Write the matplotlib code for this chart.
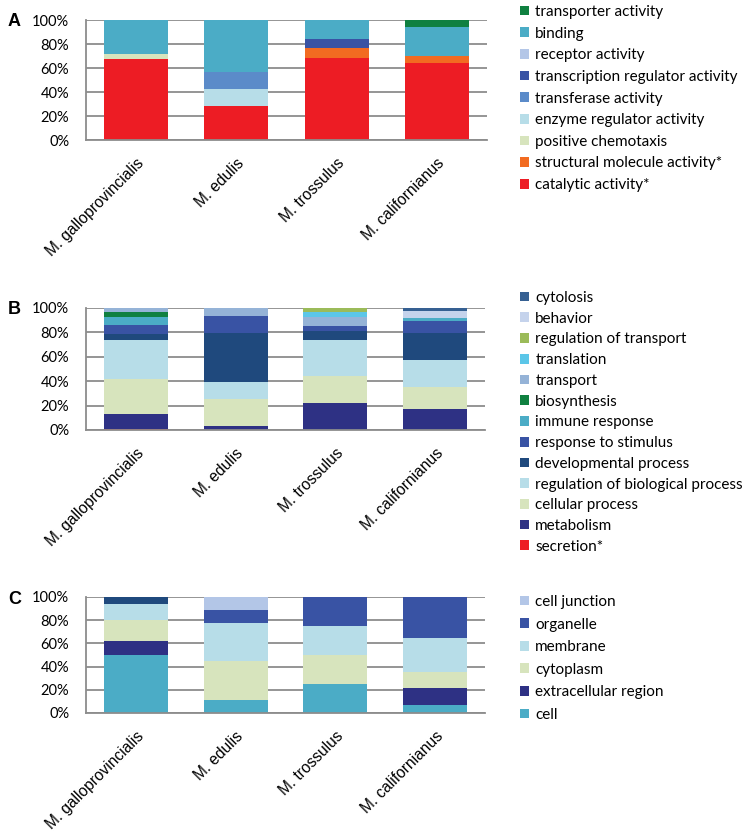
import matplotlib
matplotlib.use("Agg")
import matplotlib.pyplot as plt
from matplotlib.patches import Patch
import numpy as np

categories = ["M. galloprovincialis", "M. edulis", "M. trossulus", "M. californianus"]
yticks = [0, 20, 40, 60, 80, 100]
ytick_labels = ["0%", "20%", "40%", "60%", "80%", "100%"]

# Panel A (bottom to top)
a_labels = ["catalytic activity*", "structural molecule activity*", "positive chemotaxis",
            "enzyme regulator activity", "transferase activity",
            "transcription regulator activity", "receptor activity", "binding",
            "transporter activity"]
a_catalytic = [67.2, 28.4, 68.6, 64.2]
a_structural = [0, 0, 8.1, 5.8]
a_chemotaxis = [4.2, 0, 0, 0]
a_enzyme_reg = [0, 14.4, 0, 0]
a_transferase = [0, 14.2, 0, 0]
a_transcription = [0, 0, 7.5, 0]
a_receptor = [0, 0, 0, 0]
a_binding = [28.6, 43.0, 15.8, 24.2]
a_transporter = [0, 0, 0, 5.8]
a_colors = ["#ed1c24", "#f26b21", "#d7e4bd", "#b7dde8", "#5b8bc9",
            "#3953a4", "#b3c6e7", "#4bacc6", "#0f8040"]

# Panel B (bottom to top)
b_labels = ["secretion*", "metabolism", "cellular process", "regulation of biological process",
            "developmental process", "response to stimulus", "immune response",
            "biosynthesis", "transport", "translation", "regulation of transport",
            "behavior", "cytolosis"]
b_secretion = [1.0, 0, 0, 0]
b_metabolism = [11.8, 3.0, 22.3, 16.9]
b_cellular = [29.4, 22.1, 22.1, 18.0]
b_regulation_bio = [31.9, 13.9, 29.7, 22.3]
b_developmental = [4.9, 40.6, 6.8, 22.4]
b_response = [7.4, 13.9, 4.4, 9.8]
b_immune = [6.0, 0, 0, 2.5]
b_biosynthesis = [4.1, 0, 0, 0]
b_transport = [3.5, 6.5, 7.3, 0]
b_translation = [0, 0, 4.1, 0]
b_reg_transport = [0, 0, 3.3, 0]
b_behavior = [0, 0, 0, 6.0]
b_cytolosis = [0, 0, 0, 2.1]
b_colors = ["#ed1c24", "#2e3184", "#d7e4bd", "#b7dde8", "#1f497d", "#3953a4",
            "#4bacc6", "#0f8040", "#95b3d7", "#5bc6e8", "#9bbb59", "#c5d3ec", "#366092"]

# Panel C (bottom to top); last series has no legend entry in the original
c_labels = ["cell", "extracellular region", "cytoplasm", "membrane", "organelle",
            "cell junction", "_unlabeled"]
c_cell = [50.0, 11.1, 25.0, 7.1]
c_extracellular = [12.5, 0, 0, 14.3]
c_cytoplasm = [17.5, 33.3, 25.0, 14.3]
c_membrane = [13.7, 33.3, 25.0, 28.6]
c_organelle = [0, 11.1, 25.0, 35.7]
c_cell_junction = [0, 11.1, 0, 0]
c_unlabeled = [6.3, 0, 0, 0]
c_colors = ["#4bacc6", "#2e3184", "#d7e4bd", "#b7dde8", "#3953a4", "#b3c6e7", "#1f497d"]

panels = [
    ("A", a_labels, [a_catalytic, a_structural, a_chemotaxis, a_enzyme_reg, a_transferase,
                     a_transcription, a_receptor, a_binding, a_transporter], a_colors),
    ("B", b_labels, [b_secretion, b_metabolism, b_cellular, b_regulation_bio, b_developmental,
                     b_response, b_immune, b_biosynthesis, b_transport, b_translation,
                     b_reg_transport, b_behavior, b_cytolosis], b_colors),
    ("C", c_labels, [c_cell, c_extracellular, c_cytoplasm, c_membrane, c_organelle,
                     c_cell_junction, c_unlabeled], c_colors),
]

W, H = 743, 836
fig = plt.figure(figsize=(W / 100, H / 100), dpi=100)

# axes boxes in pixels: (left, top, right, bottom)
boxes = [(86, 20, 487, 140), (86, 308, 485, 430), (86, 597, 485, 713)]
legend_tops = [5, 291, 595]
legend_spacing = [0.50, 0.44, 0.56]
tickfont = "Lato"
gray = "#8c8c8c"

for (letter, labels, series, colors), (l, t, r, b), ltop, lsp in zip(panels, boxes, legend_tops, legend_spacing):
    ax = fig.add_axes([l / W, 1 - b / H, (r - l) / W, (b - t) / H])
    x = np.arange(len(categories))
    bottom = np.zeros(len(categories))
    handles = []
    for lab, vals, col in zip(labels, series, colors):
        vals = np.array(vals, dtype=float)
        ax.bar(x, vals, 0.64, bottom=bottom, color=col, edgecolor="none", zorder=2)
        bottom += vals
        if not lab.startswith("_"):
            handles.append(Patch(facecolor=col, edgecolor="none", label=lab))
    ax.set_xlim(-0.5, 3.5)
    ax.set_ylim(0, 100)
    ax.set_yticks(yticks)
    ax.set_yticklabels(ytick_labels, fontsize=10.5, family=tickfont)
    ax.set_xticks(x)
    ax.set_xticklabels(categories, rotation=45, ha="right", rotation_mode="anchor",
                       fontsize=11.2, family="Liberation Sans")
    ax.tick_params(axis="x", length=0, pad=11)
    ax.tick_params(axis="y", length=0, pad=12)
    ax.yaxis.grid(True, color=gray, linewidth=1.3, zorder=0)
    ax.set_axisbelow(True)
    for s in ["top", "right"]:
        ax.spines[s].set_visible(False)
    for s in ["left", "bottom"]:
        ax.spines[s].set_color(gray)
        ax.spines[s].set_linewidth(1.3)
    fig.text(8 / W, 1 - (t + 2) / H, letter, fontsize=13, fontweight="bold",
             family="Liberation Sans", va="center", ha="left")
    fig.legend(handles=handles[::-1], loc="upper left",
               bbox_to_anchor=(520 / W, 1 - ltop / H), frameon=False,
               prop={"family": tickfont, "size": 11}, handlelength=0.6,
               handleheight=0.6, handletextpad=0.4, labelspacing=lsp,
               borderpad=0, borderaxespad=0)

fig.savefig("out.png", dpi=100)
